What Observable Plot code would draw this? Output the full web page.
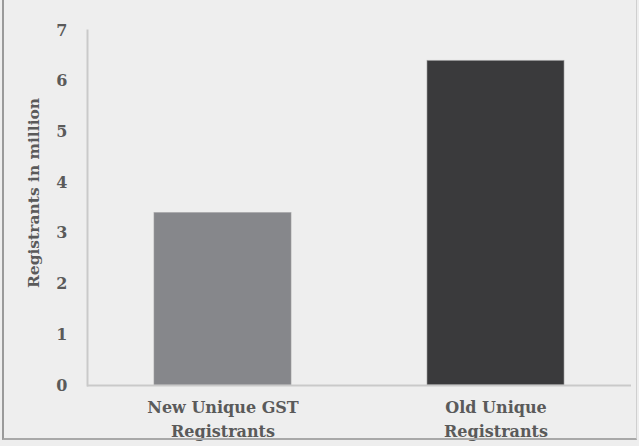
<!DOCTYPE html>
<html>
<head>
<meta charset="utf-8">
<script src="https://cdn.jsdelivr.net/npm/d3@7"></script>
<script src="https://cdn.jsdelivr.net/npm/@observablehq/plot@0.6"></script>
<style>
  html, body { margin: 0; padding: 0; background: #eeeeee; }
  #chart { width: 639px; height: 446px; position: relative; overflow: hidden; }
  #frame { position: absolute; left: 2px; top: -5px; width: 632px; height: 443px; border-left: 2px solid #9a9a9a; border-bottom: 2px solid #a8a8a8; border-right: 1px solid #cfcfcf; pointer-events: none; }
</style>
</head>
<body>
<div id="chart"><div id="frame"></div></div>
<script>
const categories = ["New Unique GST\nRegistrants", "Old Unique\nRegistrants"];
const values = [3.4, 6.4];
const barColors = ["#86878b", "#3a3a3c"];
const yTicks = [0, 1, 2, 3, 4, 5, 6, 7];
const yLabel = "Registrants in million";

const data = categories.map((c, i) => ({category: c, value: values[i]}));

const plot = Plot.plot({
  width: 639,
  height: 446,
  marginLeft: 87,
  marginRight: 8,
  marginTop: 30,
  marginBottom: 61,
  style: {background: "transparent", fontFamily: "'DejaVu Serif', 'Liberation Serif', serif", color: "#5a5a5a"},
  x: {domain: categories, paddingInner: 0.5, paddingOuter: 0.245},
  y: {domain: [0, 7]},
  color: {domain: categories, range: barColors},
  marks: [
    Plot.barY(data, {x: "category", y: "value", fill: "category", stroke: "#9c9c9e", strokeWidth: 1, strokeOpacity: 0.6}),
    Plot.ruleY([0], {stroke: "#c9c9c9", strokeWidth: 2}),
    Plot.frame({anchor: "left", stroke: "#c9c9c9", strokeWidth: 2}),
    Plot.axisY({ticks: yTicks, tickFormat: d3.format("d"), tickSize: 0, tickPadding: 20, fontSize: 16, fill: "#5a5a5a", fontWeight: "bold", label: null}),
    Plot.axisX({tickSize: 0, tickPadding: 10, fontSize: 16, fill: "#5a5a5a", fontWeight: "bold", lineHeight: 1.5, label: null}),
    Plot.text([yLabel], {frameAnchor: "left", dx: -53, dy: -15, rotate: -90, fontSize: 15.5, fontWeight: "bold", fill: "#5a5a5a", textAnchor: "middle"})
  ]
});
document.getElementById("chart").prepend(plot);
</script>
</body>
</html>
